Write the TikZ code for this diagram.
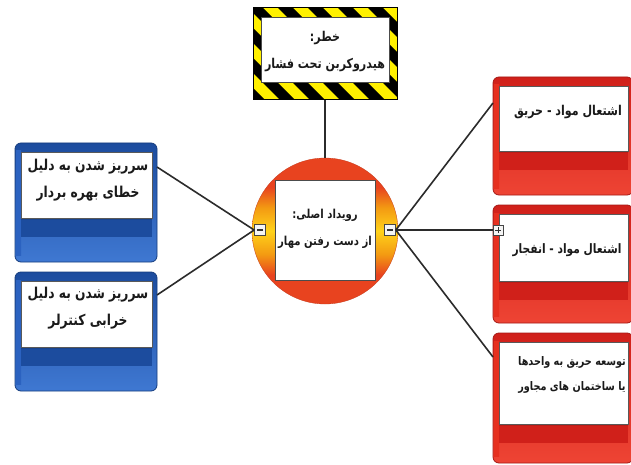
\documentclass[tikz,border=0pt]{standalone}
\usepackage{fontspec}
\newfontfamily\fa[Script=Arabic, FakeStretch=0.82]{DejaVu Sans}
\TeXXeTstate=1
\definecolor{hazY}{HTML}{FFF000}
\definecolor{bluD}{HTML}{1C4C9E}
\definecolor{bluM}{HTML}{2B62C0}
\definecolor{bluL}{HTML}{3F78D2}
\definecolor{redD}{HTML}{D0201A}
\definecolor{redM}{HTML}{E6301F}
\definecolor{redL}{HTML}{EE4434}
\definecolor{circR}{HTML}{E8431F}
\definecolor{circO}{HTML}{F39A12}
\definecolor{circY}{HTML}{FFD21A}
\definecolor{connC}{HTML}{2B2B2B}
\definecolor{txtC}{HTML}{1A1A1A}
\pgfdeclareverticalshading{circshade}{100bp}{color(0bp)=(circR); color(25bp)=(circR); color(35bp)=(circR); color(42bp)=(circO); color(50bp)=(circY); color(58bp)=(circO); color(65bp)=(circR); color(75bp)=(circR); color(100bp)=(circR)}
\newcommand\rl[1]{\beginR #1\endR}
% #1 name, #2 x, #3 y, #4 w, #5 h, #6 white height, #7 colour prefix
\newcommand\riskbox[7]{%
  \begin{scope}[shift={(#2,#3)}]
    \node[rectangle, rounded corners=6, inner sep=0, outer sep=0,
          minimum width=#4, minimum height=#5, top color=#7D, bottom color=#7L,
          draw=#7D!80!black, line width=0.8] (#1) at (#4/2,#5/2) {};
    \shade[left color=#7M, middle color=white!85!#7M, right color=#7M] (1.2,8) rectangle (6,#5-7);
    \fill[#7D!90!black] (6,9+#6) rectangle (#4-5,9+#6+19);
    \fill[#7D] (6,9+#6+2) rectangle (#4-5,9+#6+19);
    \fill[white] (6,9) rectangle (#4-5,9+#6);
    \draw[gray!70!black, line width=0.5] (6,9) rectangle (#4-5,9+#6);
  \end{scope}}
\tikzset{
  conn/.style={draw=connC, line width=1.6},
  lbl/.style={font=\fa\bfseries\fontsize{#1}{27}\selectfont, text=txtC, align=center, inner sep=0},
  marker/.style={rectangle, draw=gray!55!black, fill=gray!8, line width=0.6, minimum size=11, inner sep=0},
}
\begin{document}
\begin{tikzpicture}[x=1pt,y=-1pt]
\useasboundingbox (0,0) rectangle (631,465);
\fill[white] (0,0) rectangle (631,465);

% hazard
\begin{scope}
  \clip (253,8) rectangle (397,100);
  \fill[hazY] (253,8) rectangle (397,100);
  \foreach \i in {-5,...,8} {
    \fill[black] (248+30*\i,8) -- (263+30*\i,8) -- (355+30*\i,100) -- (340+30*\i,100) -- cycle;
  }
\end{scope}
\node[rectangle, fill=white, draw=gray!60!black, line width=0.5, minimum width=128, minimum height=65, inner sep=0] (hazw) at (325,49.5) {};
\node[rectangle, draw=black, line width=1, minimum width=144, minimum height=92, inner sep=0] (haz) at (325,54) {};
\node[lbl=13.5] (hazt) at (325,52) {\rl{خطر:}\\ \rl{هیدروکربن تحت فشار}};

% top event
\node[circle, minimum size=146, inner sep=0, shading=circshade, draw=circR!85!black, line width=0.3] (te) at (325,231) {};
\node[rectangle, fill=white, draw=gray!60!black, line width=0.5, minimum width=100, minimum height=100, inner sep=0] (tew) at (325,230) {};
\node[lbl=12.3] (tet) at (325,229) {\rl{رویداد اصلی:}\\ \rl{از دست رفتن مهار}};
\draw[conn] (haz.south) -- (te.north);

% threats
\riskbox{b1}{15}{143}{142}{119}{66}{blu}
\riskbox{b2}{15}{272}{142}{119}{66}{blu}
\node[lbl=15] (b1t) at (88,180) {\rl{سرریز شدن به دلیل}\\ \rl{خطای بهره بردار}};
\node[lbl=15] (b2t) at (88,308) {\rl{سرریز شدن به دلیل}\\ \rl{خرابی کنترلر}};

% consequences
\riskbox{r1}{493}{77}{140}{118}{65}{red}
\riskbox{r2}{493}{205}{140}{118}{67}{red}
\riskbox{r3}{493}{333}{140}{130}{82}{red}
\node[lbl=13.5] (r1t) at (568,112) {\rl{اشتعال مواد - حریق}};
\node[lbl=13] (r2t) at (567,250) {\rl{اشتعال مواد - انفجار}};
\node[lbl=11.5, font=\fa\bfseries\fontsize{11.8}{25}\selectfont] (r3t) at (572,375) {\rl{توسعه حریق به واحدها}\\ \rl{یا ساختمان های مجاور}};

% markers
\node[marker] (mL) at (260,230) {};
\node[marker] (mR) at (390,230) {};
\node[marker, minimum size=10] (mP) at (498,230) {};
\draw[line width=1.1, black!80] ([xshift=-3]mL.center) -- ([xshift=3]mL.center);
\draw[line width=1.1, black!80] ([xshift=-3]mR.center) -- ([xshift=3]mR.center);
\draw[line width=0.9, black!80] ([xshift=-3]mP.center) -- ([xshift=3]mP.center);
\draw[line width=0.9, black!80] ([yshift=-3]mP.center) -- ([yshift=3]mP.center);

% connectors
\coordinate (b1c) at (157,167);
\coordinate (b2c) at (157,295);
\coordinate (r1c) at (493,103);
\coordinate (r3c) at (493,357);
\draw[conn] (mL.west) -- (b1c);
\draw[conn] (mL.west) -- (b2c);
\draw[conn] (mR.east) -- (r1c);
\draw[conn] (mR.east) -- (mP.west);
\draw[conn] (mR.east) -- (r3c);
\end{tikzpicture}
\end{document}
